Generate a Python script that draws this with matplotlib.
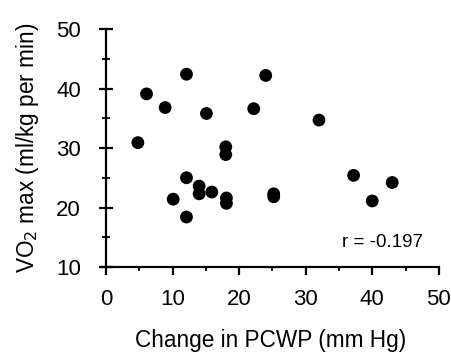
import matplotlib.pyplot as plt
from matplotlib.ticker import MultipleLocator

plt.rcParams['font.family'] = ['Liberation Sans', 'DejaVu Sans']

# Change in PCWP (mm Hg) vs VO2 max (ml/kg per min)
pcwp_change = [4.8, 6.1, 8.9, 12.1, 15.1, 22.2, 24.0, 32.0, 18.0, 18.0, 12.1, 14.0,
               14.0, 15.9, 10.1, 12.1, 18.1, 18.1, 25.2, 25.2, 37.2, 40.0, 43.0]
vo2_max = [30.9, 39.1, 36.8, 42.4, 35.8, 36.6, 42.2, 34.7, 30.2, 28.9, 25.0, 23.6,
           22.3, 22.6, 21.4, 18.4, 21.6, 20.7, 22.3, 21.8, 25.4, 21.1, 24.2]
r_value = -0.197

fig = plt.figure(figsize=(4.51, 3.56), dpi=100)
ax = fig.add_axes([0.226, 0.25, 0.747, 0.6685])

ax.scatter(pcwp_change, vo2_max, s=85, color='black', edgecolors='none', zorder=3)

ax.set_xlim(-0.6, 50)
ax.set_ylim(10, 50)
ax.spines['left'].set_position(('data', 0))
ax.spines['top'].set_visible(False)
ax.spines['right'].set_visible(False)
for side in ['left', 'bottom']:
    ax.spines[side].set_linewidth(1.6)

ax.xaxis.set_major_locator(MultipleLocator(10))
ax.xaxis.set_minor_locator(MultipleLocator(5))
ax.yaxis.set_major_locator(MultipleLocator(10))
ax.yaxis.set_minor_locator(MultipleLocator(5))
ax.tick_params(axis='x', which='major', direction='out', length=6, width=1.6, labelsize=16, pad=9.5)
ax.tick_params(axis='x', which='minor', direction='out', length=3, width=1.3)
ax.tick_params(axis='y', which='major', direction='inout', length=10, width=1.6, labelsize=16, pad=13)
ax.tick_params(axis='y', which='minor', direction='inout', length=6, width=1.3)

ax.text(47.6, 14.2, f"r = {r_value}", ha='right', va='center', fontsize=13.5)

ax.set_xlabel("Change in PCWP (mm Hg)", fontsize=16.3, labelpad=14)
ax.set_ylabel("VO$_2$ max (ml/kg per min)", fontsize=16.3, labelpad=11)

fig.savefig("out.png", dpi=100)
